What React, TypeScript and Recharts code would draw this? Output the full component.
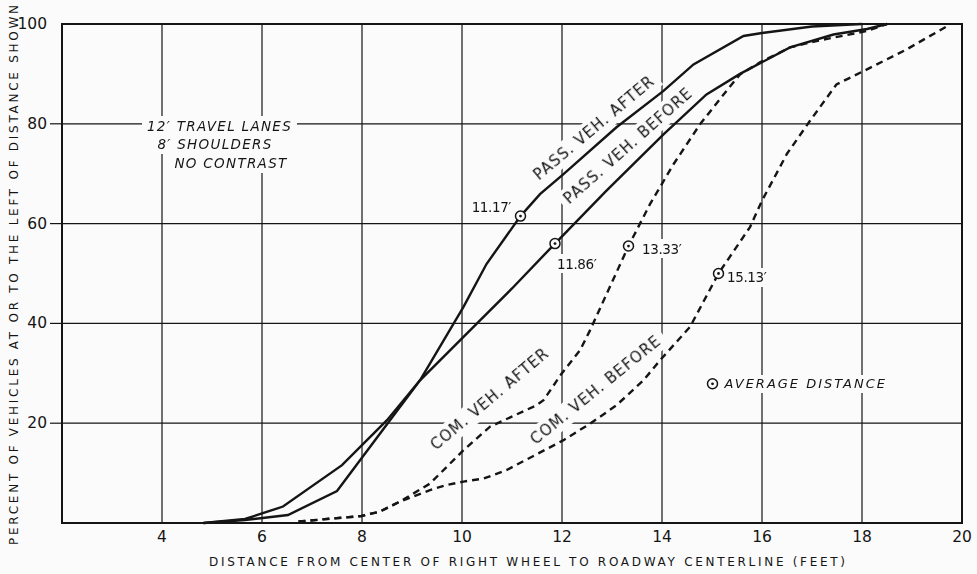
import React from 'react';
import {
  ComposedChart,
  Line,
  Scatter,
  XAxis,
  YAxis,
  CartesianGrid,
  ReferenceArea,
} from 'recharts';

// axis ticks
const X_TICKS = [2, 4, 6, 8, 10, 12, 14, 16, 18, 20];
const Y_TICKS = [0, 20, 40, 60, 80, 100];

// passenger vehicles, after (solid)
const passAfterX = [4.83, 5.66, 6.52, 7.5, 8.56, 9.16, 10.03, 10.49, 11.17, 11.56, 12.03, 13.09, 14.03, 14.63, 15.63, 16.0, 17.0, 18.0];
const passAfterY = [0, 0.6, 1.6, 6.4, 20.6, 28.6, 43.3, 51.9, 61.5, 65.9, 69.9, 79.3, 86.6, 91.9, 97.6, 98.2, 99.5, 100];

// passenger vehicles, before (solid)
const passBeforeX = [4.83, 5.66, 6.42, 7.6, 8.5, 9.16, 10.03, 11.0, 11.86, 12.89, 14.03, 14.89, 15.56, 16.56, 17.43, 18.1, 18.5];
const passBeforeY = [0, 0.8, 3.3, 11.6, 20.6, 28.6, 37.3, 47, 56, 66.6, 77.9, 85.9, 90, 95.3, 97.9, 99, 100];

// commercial vehicles, after (dashed)
const comAfterX = [6.73, 7.99, 8.36, 8.76, 9.36, 10.03, 10.56, 11.49, 11.63, 11.99, 12.36, 12.56, 13.33, 13.76, 14.23, 14.76, 15.29, 15.56, 15.96, 16.56, 17.09, 18.1, 18.5];
const comAfterY = [0.3, 1.4, 2.3, 4.3, 7.9, 14.6, 19.3, 23.6, 24.6, 29.9, 34.6, 38.6, 55.5, 63.9, 71.9, 79.9, 86.6, 89.9, 92.3, 95.3, 96.6, 98.6, 100];

// commercial vehicles, before (dashed)
const comBeforeX = [6.73, 7.99, 8.36, 8.76, 9.36, 9.69, 10.03, 10.43, 10.89, 12.03, 12.56, 13.09, 13.63, 13.96, 14.56, 15.13, 15.76, 16.0, 16.5, 16.96, 17.49, 18.1, 18.89, 19.69];
const comBeforeY = [0.3, 1.4, 2.3, 4.3, 6.6, 7.6, 8.3, 8.9, 10.6, 16.6, 19.9, 23.6, 28.6, 32.6, 39.3, 50, 59.3, 64.6, 74, 80.6, 87.9, 90.9, 94.9, 99.5];

// average distances (circled points)
const avgX = [11.17, 11.86, 13.33, 15.13];
const avgY = [61.5, 56, 55.5, 50];
const avgLabels = ['11.17′', '11.86′', '13.33′', '15.13′'];
const avgLabelX = [10.98, 11.9, 13.6, 15.3];
const avgLabelY = [63.4, 52.0, 55.0, 49.2];

// curve names
const curveNames = ['PASS. VEH. AFTER', 'PASS. VEH. BEFORE', 'COM. VEH. AFTER', 'COM. VEH. BEFORE'];
const curveNameX = [12.64, 13.32, 10.56, 12.68];
const curveNameY = [79.2, 75.6, 24.8, 26.6];
const curveNameAngle = [-40, -41.5, -40, -39];

// note block
const noteLines = ['12′ TRAVEL LANES', '8′ SHOULDERS', 'NO CONTRAST'];
const noteX = [5.15, 5.06, 5.38];
const noteY = [79.6, 76, 72.2];

const legendX = 15.01;
const legendY = 27.9;

const X_TITLE = 'DISTANCE FROM CENTER OF RIGHT WHEEL TO ROADWAY CENTERLINE (FEET)';
const Y_TITLE = 'PERCENT OF VEHICLES AT OR TO THE LEFT OF DISTANCE SHOWN';

const toRows = (xs: number[], ys: number[]) => xs.map((x, i) => ({ x, y: ys[i] }));

const INK = '#151515';
const BG = '#fbfbfb';
const FONT = '"DejaVu Sans", sans-serif';

type LabelStyle = { anchor: string; size: number; italic: boolean; spacing: number };

const NOTE_STYLE: LabelStyle = { anchor: 'middle', size: 13.5, italic: true, spacing: 1.3 };
const CURVE_STYLE: LabelStyle = { anchor: 'middle', size: 15, italic: false, spacing: 1.1 };
const AVG_STYLE: LabelStyle = { anchor: 'start', size: 13.5, italic: false, spacing: -0.4 };
const LEGEND_STYLE: LabelStyle = { anchor: 'start', size: 13, italic: true, spacing: 2 };

const labelRows = [
  ...noteLines.map((t, i) => ({ x: noteX[i], y: noteY[i], text: t, angle: 0, st: NOTE_STYLE })),
  ...curveNames.map((t, i) => ({ x: curveNameX[i], y: curveNameY[i], text: t, angle: curveNameAngle[i], st: CURVE_STYLE })),
  ...avgLabels.map((t, i) => ({
    x: avgLabelX[i],
    y: avgLabelY[i],
    text: t,
    angle: 0,
    st: i === 0 ? { ...AVG_STYLE, anchor: 'end' } : AVG_STYLE,
  })),
  { x: legendX + 0.24, y: legendY, text: 'AVERAGE DISTANCE', angle: 0, st: LEGEND_STYLE },
];

const AvgMark = (p: any) => (
  <g>
    <circle cx={p.cx} cy={p.cy} r={5} fill={BG} stroke={INK} strokeWidth={1.5} />
    <circle cx={p.cx} cy={p.cy} r={1.4} fill={INK} />
  </g>
);

// text with a knocked-out background box, so grid lines break around it
const LabelMark = (p: any) => {
  const d = p.payload;
  const st: LabelStyle = d.st;
  return (
    <g transform={d.angle ? `rotate(${d.angle} ${p.cx} ${p.cy})` : undefined}>
      <text
        x={p.cx}
        y={p.cy}
        textAnchor={st.anchor as any}
        dominantBaseline="central"
        fontFamily={FONT}
        fontSize={st.size}
        fontStyle={st.italic ? 'italic' : 'normal'}
        letterSpacing={st.spacing}
        fill={INK}
        filter="url(#lblbg)"
      >
        {d.text}
      </text>
    </g>
  );
};

// y ticks: tick marks only on the inner grid lines
const YTick = (p: any) => {
  const v = p.payload.value;
  if (v === 0) return null;
  return (
    <g>
      {v !== 100 && <line x1={50} x2={62} y1={p.y} y2={p.y} stroke={INK} strokeWidth={1.2} />}
      <text x={47} y={p.y} textAnchor="end" dominantBaseline="central" fontFamily={FONT} fontSize={15.5} fill={INK}>
        {v}
      </text>
    </g>
  );
};

export default function App() {
  return (
    <div style={{ position: 'absolute', left: 0, top: 0, width: 977, height: 574, background: BG }}>
      <svg width={0} height={0} style={{ position: 'absolute' }}>
        <defs>
          <filter
            id="lblbg"
            x="-0.03"
            y="-0.08"
            width="1.06"
            height="1.16"
            colorInterpolationFilters="sRGB"
          >
            <feFlood floodColor={BG} result="bg" />
            <feMerge>
              <feMergeNode in="bg" />
              <feMergeNode in="SourceGraphic" />
            </feMerge>
          </filter>
        </defs>
      </svg>
      <ComposedChart width={977} height={574} margin={{ top: 24, right: 15, bottom: 21, left: 0 }}>
        <CartesianGrid stroke={INK} strokeWidth={1.2} fill="none" />
        <XAxis
          dataKey="x"
          type="number"
          domain={[2, 20]}
          ticks={X_TICKS}
          tickFormatter={(v: number) => (v === 2 ? '' : String(v))}
          tickLine={false}
          axisLine={false}
          height={30}
          tick={{ fill: INK, fontSize: 15.5, fontFamily: FONT }}
          label={{
            content: () => (
              <text
                x={527}
                y={562}
                textAnchor="middle"
                dominantBaseline="central"
                fontFamily={FONT}
                fontSize={12}
                fill={INK}
                textLength={636}
                lengthAdjust="spacing"
              >
                {X_TITLE}
              </text>
            ),
          }}
        />
        <YAxis
          type="number"
          domain={[0, 100]}
          ticks={Y_TICKS}
          width={62}
          axisLine={false}
          tickLine={false}
          tick={YTick}
          label={{
            content: () => (
              <text
                x={14}
                y={275}
                textAnchor="middle"
                dominantBaseline="central"
                fontFamily={FONT}
                fontSize={12}
                fill={INK}
                textLength={540}
                lengthAdjust="spacing"
                transform="rotate(-90 14 275)"
              >
                {Y_TITLE}
              </text>
            ),
          }}
        />
        <ReferenceArea x1={2} x2={20} y1={0} y2={100} fill="none" stroke={INK} strokeWidth={2} />

        <Scatter data={labelRows} dataKey="y" shape={LabelMark} isAnimationActive={false} />

        <Line data={toRows(passAfterX, passAfterY)} dataKey="y" stroke={INK} strokeWidth={2.4} dot={false} type="linear" isAnimationActive={false} />
        <Line data={toRows(passBeforeX, passBeforeY)} dataKey="y" stroke={INK} strokeWidth={2.4} dot={false} type="linear" isAnimationActive={false} />
        <Line data={toRows(comAfterX, comAfterY)} dataKey="y" stroke={INK} strokeWidth={2.4} strokeDasharray="7 5" dot={false} type="linear" isAnimationActive={false} />
        <Line data={toRows(comBeforeX, comBeforeY)} dataKey="y" stroke={INK} strokeWidth={2.4} strokeDasharray="7 5" dot={false} type="linear" isAnimationActive={false} />

        <Scatter data={toRows(avgX, avgY)} dataKey="y" shape={AvgMark} isAnimationActive={false} />
        <Scatter data={[{ x: legendX, y: legendY }]} dataKey="y" shape={AvgMark} isAnimationActive={false} />
      </ComposedChart>
    </div>
  );
}
